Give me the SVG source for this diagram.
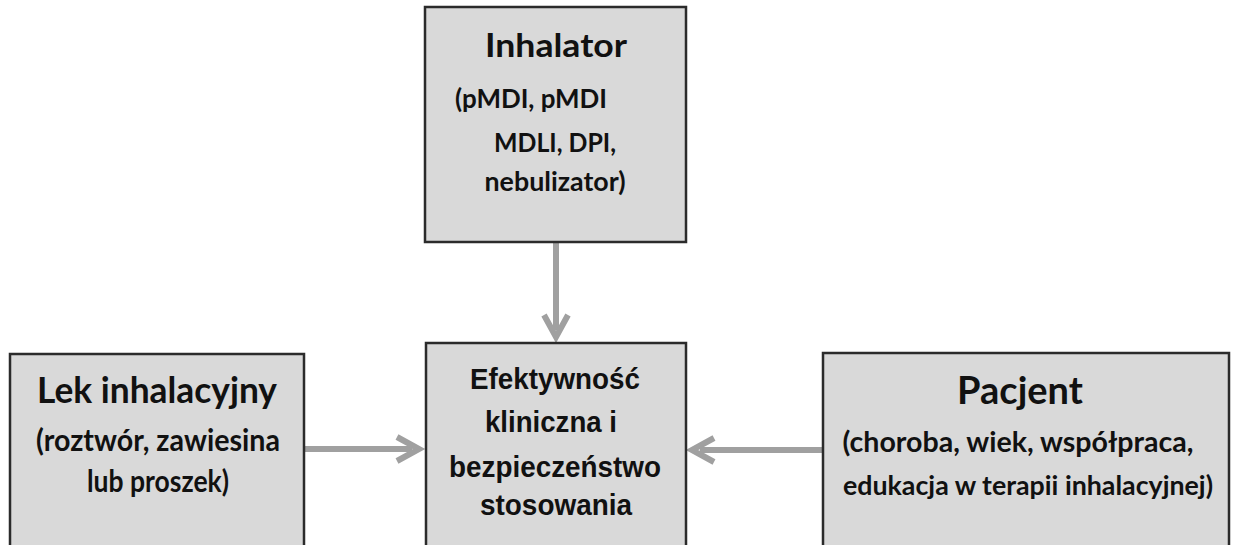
<svg xmlns="http://www.w3.org/2000/svg" width="1233" height="545" viewBox="0 0 1233 545">
<defs>
<style>
.box{fill:#d9d9d9;stroke:#2b2b2b;stroke-width:2.5}
.c{font-family:Lato,"Liberation Sans",sans-serif;font-weight:bold;fill:#111;text-anchor:middle}
.a{font-family:"Liberation Sans",Arial,sans-serif;font-weight:bold;fill:#111;text-anchor:middle;font-size:30px}
.s{font-size:31px}
.sp{font-size:29px}
.si{font-size:26px}
.conn{stroke:#a0a0a0;stroke-width:6;fill:none}
</style>
</defs>
<rect width="1233" height="545" fill="#fff"/>
<g id="connectors">
<line class="conn" x1="556" y1="243" x2="556" y2="330"/>
<polyline class="conn" points="544,315 556,337 568,315"/>
<line class="conn" x1="305" y1="449" x2="412" y2="449"/>
<polyline class="conn" points="397,437 419,449 397,461"/>
<line class="conn" x1="822" y1="450" x2="700" y2="450"/>
<polyline class="conn" points="714,438 692,450 714,462"/>
</g>
<g id="inhalator">
<rect class="box" x="425" y="7" width="261" height="235"/>
<text class="c" font-size="33" x="556" y="57" textLength="142" lengthAdjust="spacingAndGlyphs">Inhalator</text>
<text class="c si" x="531" y="108" textLength="152" lengthAdjust="spacingAndGlyphs">(pMDI, pMDI</text>
<text class="c si" x="555" y="152" textLength="122" lengthAdjust="spacingAndGlyphs">MDLI, DPI,</text>
<text class="c si" x="555" y="191" textLength="141" lengthAdjust="spacingAndGlyphs">nebulizator)</text>
</g>
<g id="efektywnosc">
<rect class="box" x="426" y="343" width="260" height="204"/>
<text class="a" x="555" y="389" textLength="170" lengthAdjust="spacingAndGlyphs">Efektywność</text>
<text class="a" x="551" y="432" textLength="132" lengthAdjust="spacingAndGlyphs">kliniczna i</text>
<text class="a" x="555" y="477" textLength="212" lengthAdjust="spacingAndGlyphs">bezpieczeństwo</text>
<text class="a" x="556" y="515" textLength="152" lengthAdjust="spacingAndGlyphs">stosowania</text>
</g>
<g id="lek">
<rect class="box" x="10" y="354" width="294" height="193"/>
<text class="c" font-size="37" x="157" y="403" textLength="240" lengthAdjust="spacingAndGlyphs">Lek inhalacyjny</text>
<text class="c s" x="158" y="451" textLength="244" lengthAdjust="spacingAndGlyphs">(roztwór, zawiesina</text>
<text class="c s" x="158" y="492" textLength="142" lengthAdjust="spacingAndGlyphs">lub proszek)</text>
</g>
<g id="pacjent">
<rect class="box" x="823" y="353" width="406" height="194"/>
<text class="c" font-size="38" x="1020" y="404">Pacjent</text>
<text class="c sp" x="1018" y="452" textLength="351" lengthAdjust="spacingAndGlyphs">(choroba, wiek, współpraca,</text>
<text class="c" font-size="27" x="1028" y="495" textLength="370" lengthAdjust="spacingAndGlyphs">edukacja w terapii inhalacyjnej)</text>
</g>
</svg>
